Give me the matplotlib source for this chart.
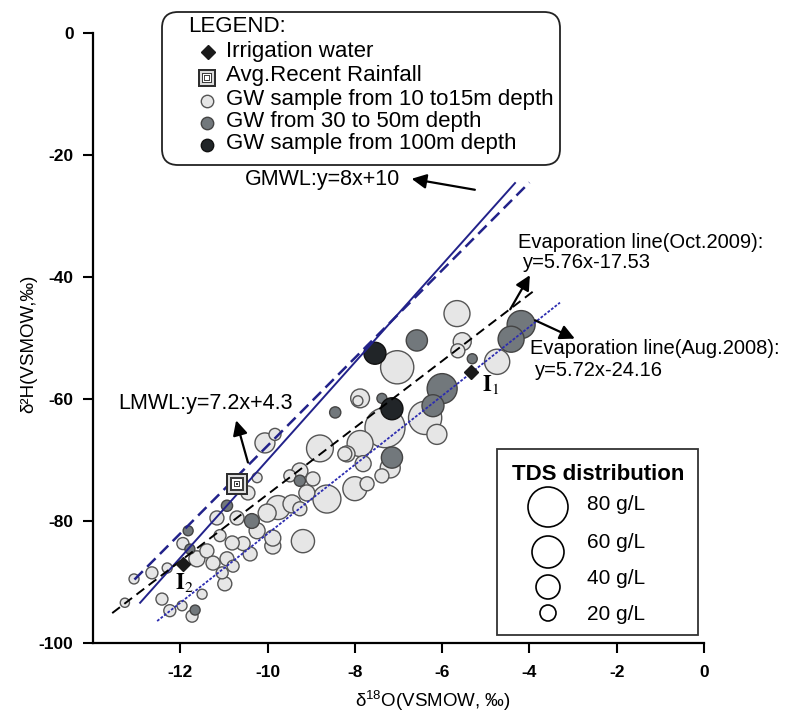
import matplotlib.pyplot as plt
from matplotlib.patches import FancyBboxPatch, Rectangle
import numpy as np

plt.rcParams['font.family'] = ['Liberation Sans', 'DejaVu Sans']
plt.rcParams['mathtext.fontset'] = 'custom'
plt.rcParams['mathtext.rm'] = 'Liberation Sans'
plt.rcParams['mathtext.bf'] = 'Liberation Sans:bold'
plt.rcParams['lines.scale_dashes'] = False
plt.rcParams['axes.unicode_minus'] = False

# groundwater samples 10-15 m depth (d18O, d2H, TDS g/L)
shallow_x = [-5.66, -7.03, -5.54, -5.64, -4.74, -6.39, -6.12, -7.31, -7.88, -7.93,
             -7.88, -8.80, -8.18, -10.06, -9.83, -7.19, -7.81, -7.38, -8.00, -8.64,
             -9.49, -8.96, -9.10, -9.76, -9.44, -9.26, -10.01, -10.24, -10.45, -11.16,
             -10.70, -10.24, -9.88, -9.88, -10.81, -11.09, -11.94, -11.62, -11.39, -11.25,
             -10.93, -10.79, -10.40, -10.56, -11.04, -10.98, -9.19, -12.30, -12.65, -13.06,
             -13.27, -12.42, -12.24, -11.96, -11.73, -11.50, -7.72, -8.23, -9.26]
shallow_y = [-46.0, -54.8, -50.6, -52.1, -53.9, -63.1, -65.8, -64.7, -59.9, -60.3,
             -67.3, -68.1, -69.0, -67.2, -65.8, -71.3, -70.6, -72.6, -74.7, -76.4,
             -72.6, -73.1, -75.4, -77.8, -77.2, -78.0, -78.7, -72.9, -75.4, -79.5,
             -79.5, -81.6, -82.8, -84.1, -83.6, -82.4, -83.7, -86.2, -84.9, -86.9,
             -86.2, -87.4, -85.4, -83.7, -88.5, -90.3, -83.3, -87.7, -88.5, -89.5,
             -93.4, -92.8, -94.7, -93.9, -95.6, -92.0, -73.9, -69.0, -71.8]
shallow_tds = [45, 63, 25, 15, 43, 63, 30, 80, 27, 5,
               45, 47, 20, 30, 10, 30, 20, 15, 40, 50,
               10, 15, 20, 40, 25, 15, 25, 5, 15, 15,
               15, 20, 20, 20, 15, 10, 10, 20, 15, 15,
               15, 10, 15, 15, 10, 15, 38, 5, 10, 5,
               3, 10, 10, 5, 10, 5, 15, 15, 20]

# groundwater 30-50 m depth
mid_x = [-6.58, -5.31, -4.19, -4.42, -6.00, -6.21, -7.38, -8.45, -7.15, -9.26,
         -10.36, -10.93, -11.82, -11.78, -11.66]
mid_y = [-50.4, -53.4, -47.8, -50.2, -58.3, -61.1, -59.9, -62.2, -69.6, -73.4,
         -80.0, -77.5, -81.6, -84.6, -94.6]
mid_tds = [33, 5, 50, 45, 55, 35, 5, 8, 33, 8, 17, 8, 5, 5, 5]

# groundwater 100 m depth
deep_x = [-7.54, -7.15]
deep_y = [-52.5, -61.6]
deep_tds = [35, 35]

irrig_x = [-5.34, -11.94]
irrig_y = [-55.5, -87.0]
rain_x = [-10.70]
rain_y = [-73.9]

# reference lines (end points)
gmwl_x = [-12.92, -4.33]
gmwl_y = [-93.4, -24.6]
lmwl_x = [-13.05, -4.0]
lmwl_y = [-89.6, -24.5]
oct_x = [-13.56, -3.83]
oct_y = [-95.1, -41.9]
aug_x = [-12.53, -3.30]
aug_y = [-96.4, -44.2]

tds_levels = [80, 60, 40, 20]
xticks = [-12, -10, -8, -6, -4, -2, 0]
yticks = [-100, -80, -60, -40, -20, 0]


def tds_size(t):
    r_px = 4 + 0.2 * np.asarray(t, dtype=float)
    return (2 * r_px * 0.72) ** 2


def order(xs, ys, ts):
    idx = np.argsort(ts)[::-1]
    return np.asarray(xs)[idx], np.asarray(ys)[idx], np.asarray(ts)[idx]


fig = plt.figure(figsize=(7.89, 7.15), dpi=100)
ax = fig.add_axes([93 / 789, 1 - 643 / 715, 611 / 789, 610 / 715])
ax.set_xlim(-14, 0)
ax.set_ylim(-100, 0)

light = '#e6e6e6'
medium = '#72787c'
dark = '#212528'

x, y, t = order(shallow_x, shallow_y, shallow_tds)
ax.scatter(x, y, s=tds_size(t), c=light, edgecolors='#555555', linewidths=1, zorder=2)
x, y, t = order(mid_x, mid_y, mid_tds)
ax.scatter(x, y, s=tds_size(t), c=medium, edgecolors='#444444', linewidths=1, zorder=2)
ax.scatter(deep_x, deep_y, s=tds_size(deep_tds), c=dark, edgecolors='#111111', linewidths=1, zorder=2)

navy = '#22228a'
ax.plot(gmwl_x, gmwl_y, '-', color=navy, lw=1.4, zorder=3)
ax.plot(lmwl_x, lmwl_y, color=navy, lw=1.8, dashes=(8.5, 4.5), zorder=3)
ax.plot(oct_x, oct_y, color='k', lw=1.4, dashes=(7, 4), zorder=3)
ax.plot(aug_x, aug_y, color='#2c2cb0', lw=1.3, dashes=(2, 1.2), zorder=3)

ax.plot(irrig_x, irrig_y, 'D', color='#1a1a1a', ms=6.8, zorder=4)

# concentric square for rainfall
for sz, col in [(15.5, '#2e2e2e'), (12.3, '#dcdcdc'), (9.6, '#3c3c3c'), (7.4, '#ffffff'),
                (5, '#444444'), (3, '#ffffff'), (1.5, '#333333')]:
    ax.plot(rain_x, rain_y, 's', color=col, ms=sz, mew=0, zorder=4)

# arrows
ap = dict(arrowstyle='-|>', color='k', lw=1.6, mutation_scale=22, shrinkA=0, shrinkB=0)
ax.annotate('', xy=(-6.7, -23.9), xytext=(-5.25, -25.7), arrowprops=ap)
ax.annotate('', xy=(-10.72, -63.5), xytext=(-10.45, -70.4), arrowprops=ap)
ax.annotate('', xy=(-3.99, -39.7), xytext=(-4.44, -45.3), arrowprops=ap)
ax.annotate('', xy=(-2.96, -50.1), xytext=(-3.87, -47.1), arrowprops=ap)

for s in ['top', 'right']:
    ax.spines[s].set_visible(False)
for s in ['left', 'bottom']:
    ax.spines[s].set_linewidth(1.6)
ax.set_xticks(xticks)
ax.set_yticks(yticks)
ax.tick_params(direction='out', length=7, width=1.5, labelsize=12.5)
ax.tick_params(axis='x', pad=9)
ax.tick_params(axis='y', pad=7)
for lab in ax.get_xticklabels() + ax.get_yticklabels():
    lab.set_fontweight('bold')
ax.set_xlabel(r'δ$^{18}$O(VSMOW, ‰)', fontsize=13.5)
ax.xaxis.set_label_coords(0.556, -0.074)
ax.set_ylabel('δ²H(VSMOW,‰)', fontsize=13.5)
ax.yaxis.set_label_coords(-0.092, 0.49)

# overlay in pixel coordinates for legends and text
ov = fig.add_axes([0, 0, 1, 1], zorder=5)
ov.set_xlim(0, 789)
ov.set_ylim(715, 0)
ov.axis('off')
ov.patch.set_alpha(0)

ov.add_patch(FancyBboxPatch((162, 12), 398, 153, boxstyle='round,pad=0,rounding_size=16',
                            fc='white', ec='#222222', lw=1.3))
ov.text(188, 26, 'LEGEND:', fontsize=16, va='center')
ov.plot([208], [52], 'D', color='#1a1a1a', ms=7.5)
for sz, col in [(12.5, '#2e2e2e'), (10, '#dcdcdc'), (7.8, '#3c3c3c'), (6, '#ffffff'),
                (4, '#444444'), (2.2, '#ffffff')]:
    ov.plot([207], [78], 's', color=col, ms=sz, mew=0)
ov.scatter([207], [101], s=80, c=light, edgecolors='#555555', linewidths=1)
ov.scatter([207], [123], s=80, c=medium, edgecolors='#444444', linewidths=1)
ov.scatter([207], [145], s=80, c=dark, edgecolors='#111111', linewidths=1)
legend_rows = ['Irrigation water', 'Avg.Recent Rainfall', 'GW sample from 10 to15m depth',
               'GW from 30 to 50m depth', 'GW sample from 100m depth']
for i, row in enumerate(legend_rows):
    ov.text(226, [52, 76, 100, 122, 144][i], row, fontsize=16, va='center')

# TDS legend
ov.add_patch(Rectangle((497, 449), 201, 186, fc='white', ec='#333333', lw=1.3))
ov.text(598, 475, 'TDS distribution', fontsize=16, fontweight='bold', ha='center', va='center')
ov.scatter([548] * 4, [507, 552, 587, 613], s=tds_size(tds_levels), facecolors='white',
           edgecolors='k', linewidths=1.2)
for lv, yy in zip(tds_levels, [505, 542, 578, 615]):
    ov.text(587, yy, f'{lv} g/L', fontsize=15, va='center')

ov.text(245, 180, 'GMWL:y=8x+10', fontsize=15.5, va='center')
ov.text(118, 404, 'LMWL:y=7.2x+4.3', fontsize=15.5, va='center')
ov.text(518, 242, 'Evaporation line(Oct.2009):', fontsize=14.5, va='center')
ov.text(523, 263, 'y=5.76x-17.53', fontsize=14.5, va='center')
ov.text(530, 349, 'Evaporation line(Aug.2008):', fontsize=14.5, va='center')
ov.text(535, 370, 'y=5.72x-24.16', fontsize=14.5, va='center')
ov.text(482, 385, r'$\mathbf{I}_{1}$', fontsize=16, va='center', math_fontfamily='stix')
ov.text(175, 582, r'$\mathbf{I}_{2}$', fontsize=16, va='center', math_fontfamily='stix')

fig.savefig('out.png', dpi=100)
